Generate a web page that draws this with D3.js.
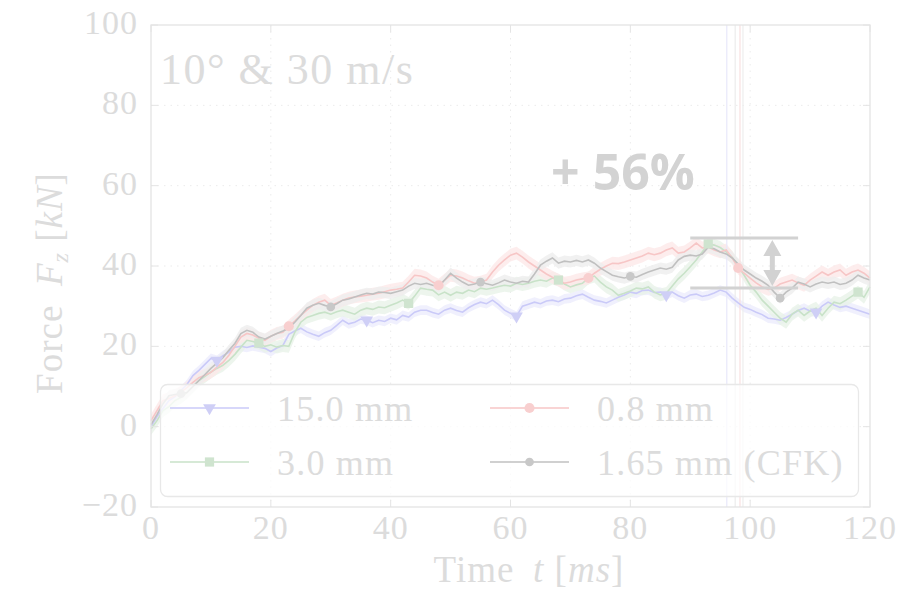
<!DOCTYPE html>
<html>
<head>
<meta charset="utf-8">
<script src="https://cdn.jsdelivr.net/npm/d3@7"></script>
<style>
  html, body { margin: 0; padding: 0; background: #fff; }
  text { font-family: "Liberation Serif", "DejaVu Serif", serif; }
</style>
</head>
<body>
<svg id="chart" width="901" height="590"></svg>
<script>
// force curves, one sample per ms (0..120 ms)
const seriesNames = ['15.0 mm', '3.0 mm', '0.8 mm', '1.65 mm (CFK)']
const sampleStepMs = 1

const force15 = [0, 2.5, 4.5, 6.5, 7.5, 9, 10.5, 12.7, 14, 15.5, 17, 16.5, 17.7, 18.5, 19.8, 20, 19.7, 20.1, 19.8, 19.5,
  18.7, 19.6, 20.2, 23, 23.8, 24.5, 23.6, 23, 22.5, 23.4, 24, 25.2, 26.5, 25.6, 26, 26.8, 26.5, 25.9, 26.5, 26.2,
  27, 26.6, 27.7, 27.3, 28.5, 29, 29, 28.4, 28, 29, 29.5, 28.9, 28.5, 29.6, 30.4, 31, 30.6, 31.5, 30.4, 29,
  28.2, 27.5, 30, 30.5, 31, 30.6, 31.3, 31.5, 31.1, 31.8, 32, 32.6, 33, 32.2, 31.5, 31.2, 30.8, 31.5, 32.2, 32.8,
  33.5, 33.2, 33.9, 34, 33.4, 33.5, 32.8, 33.5, 32.6, 32, 32.8, 33, 32.4, 32.7, 33.3, 34, 33.5, 32, 30.8, 29.7,
  29.2, 28.5, 27.9, 27, 26.8, 26.5, 27.2, 28, 28.9, 29.5, 28.8, 28.5, 30, 31, 30.3, 29.7, 30, 29.5, 29, 28.5, 28]
const force30 = [-0.5, 1.5, 4, 5, 6.5, 7.3, 8.5, 10, 11.5, 12.5, 13.6, 14.5, 15.3, 16.5, 18, 19.8, 21.5, 21.2, 20.8, 20,
  20.4, 19.8, 20.2, 20, 23.5, 26, 27.2, 27.7, 28.2, 28.5, 28, 28.6, 29, 28.5, 28, 29, 29.5, 29.2, 29.8, 29.6,
  30.2, 30.8, 31.5, 30.7, 32.5, 34.5, 34.2, 34, 32.8, 33.5, 32.7, 33.5, 33.2, 34, 33.6, 34.5, 34.2, 34.5, 34.9, 35.2,
  35, 35.7, 35.4, 35.7, 36.2, 36.5, 36.2, 37, 36.5, 35.5, 34.8, 35.3, 35.7, 37, 37.5, 36, 34.8, 34, 32.7, 33.2,
  33.8, 34.5, 34.3, 34.8, 33.5, 32.8, 33.2, 35, 36.8, 38.2, 39.8, 41.5, 43.5, 45.5, 45.2, 44.6, 43.5, 42.2, 40, 37.7,
  35.2, 33.5, 31.5, 30, 28.5, 27, 26, 28, 29, 27.7, 28.8, 29.5, 27.7, 29.5, 31, 30.6, 31.5, 32.5, 33.5, 32.2, 34.8]
const force08 = [1.5, 4, 6.5, 7, 7.7, 8.6, 9.7, 11, 12.2, 12.8, 13.5, 14.8, 16, 17.8, 20, 22.3, 23.2, 22.8, 22, 21.5,
  22.5, 23.2, 23.5, 25, 26.3, 27.7, 29, 30.2, 31, 31.5, 30.2, 30.8, 31.5, 32, 32.3, 32.5, 32.7, 33, 33.2, 33.6,
  34, 34.2, 34.5, 36, 37.7, 37.5, 37, 36, 35.2, 36.5, 37.7, 37.5, 37, 36.3, 35.7, 36, 36.5, 38.5, 40.2, 41.5,
  42.7, 43.2, 42.2, 41, 40, 39, 38, 37.2, 36.5, 35.7, 36, 36.5, 36.8, 37, 38.2, 39.2, 40, 40.7, 40.6, 41,
  41.5, 42, 42.5, 43.2, 42.8, 43.2, 44, 44.5, 43.2, 43.5, 44.5, 45.7, 44.5, 44.7, 44, 43.5, 44, 42, 39.5, 38.2,
  37, 35.8, 34.8, 34.2, 34.5, 35.5, 36, 36.5, 35.8, 35.2, 36.5, 37.5, 38.5, 37.7, 38.5, 39, 37.7, 38.5, 39, 38.2, 37]
const force165 = [0.5, 3, 5.7, 7.7, 8, 8.2, 8.5, 10, 11.5, 13, 14.5, 15.8, 17.2, 19, 20.7, 23.2, 24, 23.5, 22.3, 21.8,
  22.5, 23.2, 23.8, 24.5, 26, 27.7, 29.5, 30.2, 30.7, 30.2, 29.8, 30.6, 31.5, 31.8, 32.3, 32.8, 33.2, 33, 33.5, 33.4,
  33.2, 33.6, 34, 35, 35.7, 35.4, 35.7, 35.2, 34.8, 36.5, 38.2, 37, 36, 35.2, 35.5, 36, 35.6, 35.2, 35.8, 36.5,
  36, 35.7, 36.2, 36, 38, 40.2, 41.2, 42, 40.7, 41.2, 41, 41.4, 41, 41.5, 40.7, 39.5, 38.6, 37.7, 37.3, 37,
  37.4, 37.2, 37.9, 38.5, 39, 39.5, 39.2, 39.7, 41.5, 42.4, 42.7, 42.5, 43, 44.7, 44.3, 43.5, 43, 42, 40.5, 39,
  38, 37, 36.2, 35.2, 33.5, 32, 33.5, 34.5, 36, 35.5, 34.8, 35.5, 36, 35.7, 36, 35.4, 35.7, 36.5, 37.7, 37, 36.5]

const markerStartMs = [11, 18, 23, 5]
const markerEveryMs = 25
const bandHalfWidth = [1.2, 1.6, 1.6, 1.4]
const vlineTimes = [96.1, 97.5, 98.3, 98.8]

const xTicks = [0, 20, 40, 60, 80, 100, 120]
const yTicks = [-20, 0, 20, 40, 60, 80, 100]
const peakLevels = [47, 34.5]   // annotation bars (kN)
const peakLabel = '+ 56%'

const allSeries = [force15, force30, force08, force165]
const lineColor = ['#cacaf8', '#c8e2c8', '#f7c6c6', '#c0c0c0']
const markColor = ['#cfcff6', '#cfe4cf', '#f8cfcf', '#c8c8c8']
const bandColor = ['#ececfc', '#e8f3e8', '#fce8e8', '#eeeeee']
const vlineColor = ['#e8e8fa', '#ececec', '#f8e0e0', '#eeeeee']

const svg = d3.select('#chart')
const m = { left: 151, top: 25, right: 31, bottom: 83 }
const W = 901 - m.left - m.right
const H = 590 - m.top - m.bottom

const x = d3.scaleLinear().domain([0, 120]).range([0, W])
const y = d3.scaleLinear().domain([-20, 100]).range([H, 0])

const g = svg.append('g').attr('transform', `translate(${m.left},${m.top})`)

// grid
g.append('g').selectAll('line').data(xTicks.slice(1, -1)).join('line')
  .attr('x1', d => x(d)).attr('x2', d => x(d)).attr('y1', 0).attr('y2', H)
  .attr('stroke', '#ebebeb').attr('stroke-dasharray', '1.5,5')
g.append('g').selectAll('line').data(yTicks.slice(1, -1)).join('line')
  .attr('y1', d => y(d)).attr('y2', d => y(d)).attr('x1', 0).attr('x2', W)
  .attr('stroke', '#ebebeb').attr('stroke-dasharray', '1.5,5')

// bands and lines
const tOf = i => i * sampleStepMs
const area = d3.area().x((d, i) => x(tOf(i)))
const line = d3.line().x((d, i) => x(tOf(i))).y(d => y(d))

allSeries.forEach((s, k) => {
  g.append('path').datum(s)
    .attr('d', area.y0(d => y(d - bandHalfWidth[k])).y1(d => y(d + bandHalfWidth[k])))
    .attr('fill', bandColor[k]).attr('opacity', 0.8)
})

// vertical markers
g.append('g').selectAll('line').data(vlineTimes).join('line')
  .attr('x1', d => x(d)).attr('x2', d => x(d)).attr('y1', 0).attr('y2', H)
  .attr('stroke', (d, i) => vlineColor[i]).attr('stroke-width', 1.2)

allSeries.forEach((s, k) => {
  g.append('path').datum(s).attr('d', line)
    .attr('fill', 'none').attr('stroke', lineColor[k]).attr('stroke-width', 1.6)
})

const symbols = [
  d3.symbol().type(d3.symbolTriangle).size(70),
  d3.symbol().type(d3.symbolSquare).size(85),
  d3.symbol().type(d3.symbolCircle).size(80),
  d3.symbol().type(d3.symbolCircle).size(60),
]
const symRot = [180, 0, 0, 0]

allSeries.forEach((s, k) => {
  const idx = d3.range(markerStartMs[k], s.length, markerEveryMs)
  g.append('g').selectAll('path').data(idx).join('path')
    .attr('d', symbols[k])
    .attr('transform', i => `translate(${x(tOf(i))},${y(s[i])}) rotate(${symRot[k]})`)
    .attr('fill', markColor[k])
})

// annotation
const annX0 = x(90), annX1 = x(108), arrowX = x(103.7)
g.selectAll('.ann').data(peakLevels).join('line').attr('class', 'ann')
  .attr('x1', annX0).attr('x2', annX1).attr('y1', d => y(d)).attr('y2', d => y(d))
  .attr('stroke', '#d2d2d2').attr('stroke-width', 3)
const yA = y(peakLevels[0]) + 2, yB = y(peakLevels[1]) - 2
g.append('line').attr('x1', arrowX).attr('x2', arrowX).attr('y1', yA + 12).attr('y2', yB - 12)
  .attr('stroke', '#d2d2d2').attr('stroke-width', 5)
g.append('path').attr('d', `M${arrowX},${yA} l-9,16 l18,0 z M${arrowX},${yB} l-9,-16 l18,0 z`)
  .attr('fill', '#d2d2d2')
g.append('text').attr('x', 623 - m.left).attr('y', 190 - m.top).attr('text-anchor', 'middle')
  .style('font-family', '"Open Sans", "DejaVu Sans", sans-serif').style('font-weight', 700)
  .style('font-size', '50px').attr('fill', '#d3d3d3').text(peakLabel)

// frame and inward ticks
g.append('rect').attr('width', W).attr('height', H).attr('fill', 'none').attr('stroke', '#e4e4e4').attr('stroke-width', 1.3)
const tickC = '#e4e4e4'
xTicks.forEach(t => {
  g.append('line').attr('x1', x(t)).attr('x2', x(t)).attr('y1', H).attr('y2', H - 7).attr('stroke', tickC)
  g.append('line').attr('x1', x(t)).attr('x2', x(t)).attr('y1', 0).attr('y2', 7).attr('stroke', tickC)
})
yTicks.forEach(t => {
  g.append('line').attr('y1', y(t)).attr('y2', y(t)).attr('x1', 0).attr('x2', 7).attr('stroke', tickC)
  g.append('line').attr('y1', y(t)).attr('y2', y(t)).attr('x1', W).attr('x2', W - 7).attr('stroke', tickC)
})

const txtC = '#dcdcdc'
g.append('g').selectAll('text').data(xTicks).join('text')
  .attr('x', d => x(d)).attr('y', H + 32).attr('text-anchor', 'middle')
  .style('font-size', '34px').style('letter-spacing', '1px').attr('fill', txtC).text(d => d)
g.append('g').selectAll('text').data(yTicks).join('text')
  .attr('x', -13).attr('y', d => y(d) + 9).attr('text-anchor', 'end')
  .style('font-size', '34px').style('letter-spacing', '1px').attr('fill', txtC).text(d => d < 0 ? '\u2212' + Math.abs(d) : d)

// axis labels
const xl = svg.append('text').attr('x', 529).attr('y', 582).attr('text-anchor', 'middle')
  .style('font-size', '37px').style('letter-spacing', '1px').attr('fill', txtC)
xl.append('tspan').text('Time \u2009')
xl.append('tspan').style('font-style', 'italic').text('t')
xl.append('tspan').text(' [')
xl.append('tspan').style('font-style', 'italic').text('ms')
xl.append('tspan').text(']')

const yl = svg.append('text').attr('transform', 'translate(62,283) rotate(-90)').attr('text-anchor', 'middle')
  .style('font-size', '37px').style('letter-spacing', '1px').attr('fill', txtC)
yl.append('tspan').text('Force \u2009')
yl.append('tspan').style('font-style', 'italic').text('F')
yl.append('tspan').style('font-style', 'italic').style('font-size', '24px').attr('dy', 6).text('z')
yl.append('tspan').attr('dy', -6).text(' [')
yl.append('tspan').style('font-style', 'italic').text('kN')
yl.append('tspan').text(']')

// title inside plot
svg.append('text').attr('x', 160).attr('y', 84).style('font-size', '44px').style('letter-spacing', '1.5px')
  .attr('fill', txtC).text('10\u00b0 & 30 m/s')

// legend
const lg = svg.append('g')
lg.append('rect').attr('x', 160.5).attr('y', 384.5).attr('width', 698).attr('height', 112).attr('rx', 7)
  .attr('fill', '#fff').attr('fill-opacity', 0.75).attr('stroke', '#e8e8e8').attr('stroke-width', 1.3)
const legPos = [[170, 408], [170, 462], [490, 408], [490, 462]]
seriesNames.forEach((name, k) => {
  const [lx, ly] = legPos[k]
  lg.append('line').attr('x1', lx).attr('x2', lx + 79).attr('y1', ly).attr('y2', ly)
    .attr('stroke', lineColor[k]).attr('stroke-width', 1.6)
  lg.append('path').attr('d', symbols[k]).attr('fill', markColor[k])
    .attr('transform', `translate(${lx + 39.5},${ly}) rotate(${symRot[k]})`)
  lg.append('text').attr('x', lx + 107).attr('y', ly + 13).style('font-size', '36px').style('letter-spacing', '1.2px')
    .attr('fill', txtC).text(name)
})
</script>
</body>
</html>
